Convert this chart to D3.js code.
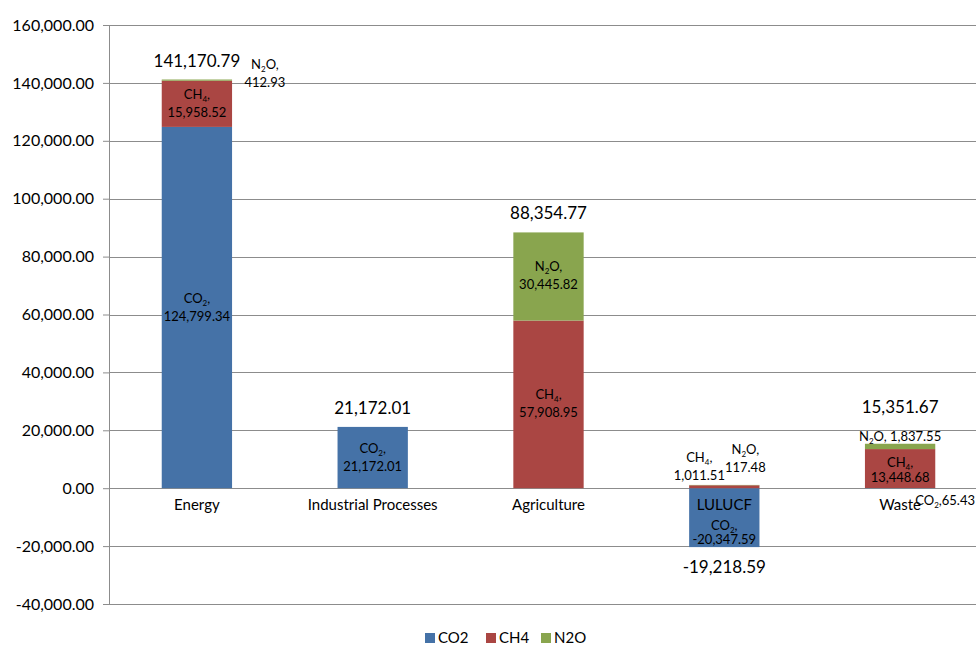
<!DOCTYPE html>
<html>
<head>
<meta charset="utf-8">
<script src="https://cdn.jsdelivr.net/npm/d3@7"></script>
<style>
  body { margin: 0; background: #fff; }
  svg { font-family: Lato, "Open Sans", sans-serif; }
</style>
</head>
<body>
<svg id="chart" width="976" height="650"></svg>
<script>
// data
const categories = ["Energy", "Industrial Processes", "Agriculture", "LULUCF", "Waste"];
const co2 = [124799.34, 21172.01, 0, -20347.59, 65.43];
const ch4 = [15958.52, 0, 57908.95, 1011.51, 13448.68];
const n2o = [412.93, 0, 30445.82, 117.48, 1837.55];
const totals = [141170.79, 21172.01, 88354.77, -19218.59, 15351.67];
const yTicks = [-40000, -20000, 0, 20000, 40000, 60000, 80000, 100000, 120000, 140000, 160000];
const seriesKeys = ["CO2", "CH4", "N2O"];
const seriesLabels = { CO2: ["CO", "2"], CH4: ["CH", "4"], N2O: ["N", "2", "O"] };

const colors = { CO2: "#4572A7", CH4: "#AA4643", N2O: "#89A54E" };

const svg = d3.select("#chart");
const margin = { top: 25, left: 109, bottom: 46 };
const height = 650 - margin.top - margin.bottom;
const plotWidth = 879; // runs a bit past the right edge, like the original

const rows = categories.map((c, i) => ({ cat: c, CO2: co2[i], CH4: ch4[i], N2O: n2o[i], total: totals[i] }));

// plain hyphen for negatives, as in the original
const locale = d3.formatLocale({ decimal: ".", thousands: ",", grouping: [3], currency: ["", ""], minus: "-" });
const fmt = locale.format(",.2f");

const x = d3.scaleBand().domain(categories).range([0, plotWidth]).paddingInner(0.6).paddingOuter(0.3);
const y = d3.scaleLinear().domain([-40000, 160000]).range([height, 0]);

const g = svg.append("g").attr("transform", `translate(${margin.left},${margin.top})`);

// gridlines
g.append("g")
    .selectAll("line")
    .data(yTicks)
    .join("line")
    .attr("x1", 0)
    .attr("x2", plotWidth)
    .attr("y1", d => Math.round(y(d)) + 0.5)
    .attr("y2", d => Math.round(y(d)) + 0.5)
    .attr("stroke", "#8c8c8c")
    .attr("stroke-width", 1);

// y axis
const yAxis = g.append("g")
    .call(d3.axisLeft(y).tickValues(yTicks).tickFormat(fmt).tickSize(6).tickPadding(9));
yAxis.select(".domain").attr("stroke", "#8c8c8c");
yAxis.selectAll(".tick line").attr("stroke", "#8c8c8c");
yAxis.selectAll(".tick text").attr("font-size", 16).attr("fill", "#000").attr("font-family", "Lato, sans-serif");

// stacked bars
const stack = d3.stack().keys(seriesKeys).offset(d3.stackOffsetDiverging);
const layers = stack(rows);

const bars = g.append("g");
layers.forEach(layer => {
    bars.append("g")
        .attr("fill", colors[layer.key])
        .selectAll("rect")
        .data(layer.filter(d => d[1] !== d[0]))
        .join("rect")
        .attr("x", d => x(d.data.cat))
        .attr("width", x.bandwidth())
        .attr("y", d => y(Math.max(d[0], d[1])))
        .attr("height", d => Math.abs(y(d[0]) - y(d[1])));
});

// category labels just under the zero line
g.append("g")
    .selectAll("text")
    .data(categories)
    .join("text")
    .attr("x", d => x(d) + x.bandwidth() / 2)
    .attr("y", y(0) + 22)
    .attr("text-anchor", "middle")
    .attr("font-size", 15)
    .attr("fill", "#000")
    .text(d => d);

// segment labels; offsets in px from the segment centre
const labelTweak = {
    "Energy|N2O": { dx: 68, dy: -15 },
    "LULUCF|CH4": { dx: -25, dy: -29 },
    "LULUCF|N2O": { dx: 21, dy: -35 },
    "LULUCF|CO2": { dx: 0, dy: 8, gap: 14 },
    "Waste|N2O": { dx: 0, dy: -9, oneLine: true, sep: " " },
    "Waste|CH4": { dx: 0, dy: -6, gap: 15 },
    "Waste|CO2": { dx: 45, dy: 13, oneLine: true, sep: "" }
};

function addName(t, key) {
    const parts = seriesLabels[key];
    t.append("tspan").text(parts[0]);
    t.append("tspan").attr("font-size", 8).attr("dy", 3).text(parts[1]);
    t.append("tspan").attr("dy", -3).text((parts[2] || "") + ",");
}

const segLabels = g.append("g").attr("font-size", 13).attr("fill", "#000").attr("text-anchor", "middle");
layers.forEach(layer => {
    layer.forEach(d => {
        if (d[1] === d[0]) return;
        const key = layer.key;
        const tw = labelTweak[d.data.cat + "|" + key] || { dx: 0, dy: -9 };
        const cx = x(d.data.cat) + x.bandwidth() / 2 + tw.dx;
        const cy = y((d[0] + d[1]) / 2) + tw.dy;
        const val = d.data[key];
        if (tw.oneLine) {
            const t = segLabels.append("text").attr("x", cx).attr("y", cy + 4);
            addName(t, key);
            t.append("tspan").text(tw.sep + fmt(val));
        } else {
            const gap = tw.gap || 18;
            const t1 = segLabels.append("text").attr("x", cx).attr("y", cy + 4);
            addName(t1, key);
            segLabels.append("text").attr("x", cx).attr("y", cy + gap + 4).text(fmt(val));
        }
    });
});

// totals over / under each bar
const totalShift = { Waste: -18 };
g.append("g")
    .selectAll("text")
    .data(rows)
    .join("text")
    .attr("x", d => x(d.cat) + x.bandwidth() / 2)
    .attr("y", d => {
        const i = categories.indexOf(d.cat);
        if (d.total < 0) {
            const bottom = d3.min(layers, l => l[i][0]);
            return y(bottom) + 26;
        }
        const top = d3.max(layers, l => l[i][1]);
        return y(top) - 13 + (totalShift[d.cat] || 0);
    })
    .attr("text-anchor", "middle")
    .attr("font-size", 17)
    .attr("fill", "#000")
    .text(d => fmt(d.total));

// legend
const legend = svg.append("g").attr("transform", "translate(425,633)");
const legendX = [0, 61, 116];
seriesKeys.forEach((k, i) => {
    const item = legend.append("g").attr("transform", `translate(${legendX[i]},0)`);
    item.append("rect").attr("width", 10).attr("height", 10).attr("fill", colors[k]);
    item.append("text").attr("x", 13).attr("y", 10).attr("font-size", 15).attr("fill", "#000").text(k);
});
</script>
</body>
</html>
